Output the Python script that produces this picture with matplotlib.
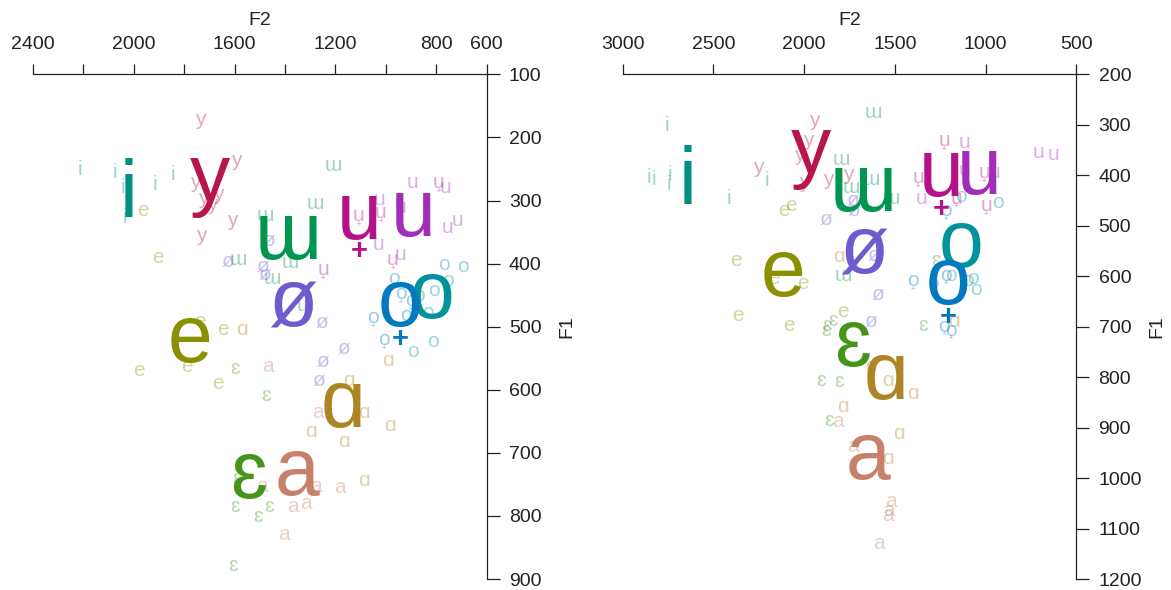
import numpy as np
import matplotlib.pyplot as plt

plt.rcParams['font.family'] = ['Liberation Sans', 'DejaVu Sans']

########################################################################
# Vowel categories and their colours

vowels = ['i', 'y', 'ɯ', 'u̟', 'u', 'o', 'o̟', 'ø', 'e', 'ɛ', 'ɑ', 'a']
colours = ['#00907F', '#B8154A', '#00964F', '#B5128A', '#A22EB8', '#00949A',
           '#0079C0', '#6E5BD0', '#8A9000', '#46951A', '#AD8524', '#C7816A']

########################################################################
# Left speaker: individual tokens (F2, F1 in Hz)

L_i_f2 = [2213, 2074, 2042, 1915, 1844, 2034]
L_i_f1 = [251, 256, 280, 275, 259, 327]
L_y_f2 = [1736, 1593, 1756, 1724, 1665, 1689, 1609, 1732]
L_y_f1 = [172, 237, 272, 296, 291, 307, 331, 356]
L_ɯ_f2 = [1208, 1279, 1478, 1585, 1450, 1379, 1319]
L_ɯ_f1 = [245, 304, 324, 394, 423, 399, 466]
L_ụ_f2 = [1108, 1021, 942, 791, 973, 1248]
L_ụ_f1 = [324, 319, 311, 272, 394, 410]
L_u_f2 = [1025, 894, 763, 755, 715, 1029, 942]
L_u_f1 = [299, 272, 280, 343, 331, 370, 385]
L_o_f2 = [771, 695, 755, 810, 834, 814, 894]
L_o_f1 = [402, 404, 426, 443, 478, 523, 539]
L_ọ_f2 = [969, 942, 902, 922, 1053, 1009, 870]
L_ọ_f1 = [423, 447, 459, 482, 486, 521, 450]
L_ø_f2 = [1625, 1486, 1478, 1466, 1252, 1168, 1248, 1267]
L_ø_f1 = [396, 404, 418, 364, 494, 534, 555, 585]
L_e_f2 = [1963, 1903, 1736, 1645, 1979, 1788, 1665]
L_e_f1 = [315, 391, 491, 505, 569, 563, 590]
L_ɛ_f2 = [1597, 1474, 1589, 1597, 1462, 1506, 1605]
L_ɛ_f1 = [566, 609, 741, 785, 785, 801, 879]
L_ɑ_f2 = [1573, 993, 1148, 1089, 985, 1299, 1168, 1089]
L_ɑ_f1 = [505, 553, 585, 636, 657, 666, 682, 744]
L_a_f2 = [1466, 1271, 1490, 1279, 1184, 1367, 1319, 1406]
L_a_f1 = [563, 636, 753, 753, 755, 785, 781, 830]

# Left speaker: vowel means (same order as vowels)
L_mean_f2 = [2022, 1697, 1387, 1105, 890, 818, 942, 1371, 1776, 1546, 1172, 1351]
L_mean_f1 = [292, 267, 359, 327, 323, 453, 466, 467, 523, 738, 626, 733]

########################################################################
# Right speaker: individual tokens (F2, F1 in Hz)

R_i_f2 = [2757, 2856, 2829, 2741, 2746, 2205, 2415]
R_i_f1 = [301, 405, 409, 399, 419, 411, 445]
R_y_f2 = [1946, 1979, 2029, 2255, 1869, 1758, 2001]
R_y_f1 = [291, 331, 361, 385, 409, 399, 415]
R_ɯ_f2 = [1620, 1797, 1631, 1742, 1521, 1786]
R_ɯ_f1 = [276, 369, 409, 425, 445, 598]
R_ụ_f2 = [1228, 1372, 1008, 1162, 997]
R_ụ_f1 = [331, 405, 395, 445, 460]
R_u_f2 = [1118, 710, 627, 1355, 952, 1118]
R_u_f1 = [335, 355, 359, 445, 395, 391]
R_o_f2 = [1135, 930, 1068, 1052, 1096, 1190]
R_o_f1 = [441, 454, 604, 627, 608, 598]
R_ọ_f2 = [1217, 1400, 1289, 1217, 1228, 1190]
R_ọ_f1 = [470, 608, 614, 598, 699, 707]
R_ø_f2 = [1880, 1731, 1725, 1615, 1593, 1631]
R_ø_f1 = [488, 449, 470, 558, 637, 689]
R_e_f2 = [2111, 2073, 2376, 2167, 2007, 2365, 2084, 1786]
R_e_f1 = [470, 460, 568, 604, 614, 677, 697, 669]
R_ɛ_f2 = [1273, 1880, 1841, 1874, 1344, 1907, 1808, 1863]
R_ɛ_f1 = [568, 707, 687, 697, 697, 806, 808, 886]
R_ɑ_f2 = [1808, 1173, 1631, 1537, 1400, 1786, 1477, 1537]
R_ɑ_f1 = [560, 689, 779, 806, 832, 858, 912, 961]
R_a_f2 = [1813, 1731, 1521, 1532, 1537, 1587]
R_a_f1 = [888, 938, 1047, 1065, 1075, 1130]

# Right speaker: vowel means
R_mean_f2 = [2641, 1962, 1675, 1245, 1035, 1135, 1206, 1670, 2117, 1731, 1548, 1648]
R_mean_f1 = [415, 353, 429, 399, 395, 540, 614, 552, 598, 737, 802, 961]

########################################################################
# Axis settings per panel

L_xticks = [2400, 2200, 2000, 1800, 1600, 1400, 1200, 1000, 800, 600]
L_xlabels = ['2400', '', '2000', '', '1600', '', '1200', '', '800', '600']
L_yticks = [100, 200, 300, 400, 500, 600, 700, 800, 900]

R_xticks = [3000, 2500, 2000, 1500, 1000, 500]
R_xlabels = ['3000', '2500', '2000', '1500', '1000', '500']
R_yticks = [200, 300, 400, 500, 600, 700, 800, 900, 1000, 1100, 1200]

L_tokens = [(L_i_f2, L_i_f1), (L_y_f2, L_y_f1), (L_ɯ_f2, L_ɯ_f1), (L_ụ_f2, L_ụ_f1),
            (L_u_f2, L_u_f1), (L_o_f2, L_o_f1), (L_ọ_f2, L_ọ_f1), (L_ø_f2, L_ø_f1),
            (L_e_f2, L_e_f1), (L_ɛ_f2, L_ɛ_f1), (L_ɑ_f2, L_ɑ_f1), (L_a_f2, L_a_f1)]
R_tokens = [(R_i_f2, R_i_f1), (R_y_f2, R_y_f1), (R_ɯ_f2, R_ɯ_f1), (R_ụ_f2, R_ụ_f1),
            (R_u_f2, R_u_f1), (R_o_f2, R_o_f1), (R_ọ_f2, R_ọ_f1), (R_ø_f2, R_ø_f1),
            (R_e_f2, R_e_f1), (R_ɛ_f2, R_ɛ_f1), (R_ɑ_f2, R_ɑ_f1), (R_a_f2, R_a_f1)]

PLUS_BELOW = '\u031f'


def vowel_label(ax, x, y, v, colour, size, alpha, z):
    # matplotlib places the combining "advanced" plus badly, so draw it
    # as its own small '+' centred under the base letter
    base = v.replace(PLUS_BELOW, '')
    ax.text(x, y, base, color=colour, alpha=alpha, fontsize=size,
            ha='center', va='center', zorder=z)
    if PLUS_BELOW in v:
        ax.annotate('+', (x, y), xytext=(0, -0.42 * size),
                    textcoords='offset points', color=colour, alpha=alpha,
                    fontsize=0.36 * size, fontweight='bold',
                    ha='center', va='center', zorder=z)


def vowel_panel(ax, tokens, mean_f2, mean_f1, xticks, xlabels, yticks):
    # faint token labels first, big means on top
    for v, c, (f2, f1) in zip(vowels, colours, tokens):
        for x, y in zip(f2, f1):
            vowel_label(ax, x, y, v, c, 15, 0.38, 2)
    for v, c, x, y in zip(vowels, colours, mean_f2, mean_f1):
        vowel_label(ax, x, y, v, c, 58, 1.0, 3)

    ax.set_xlim(xticks[0], xticks[-1])
    ax.set_ylim(yticks[-1], yticks[0])
    ax.set_xticks(xticks)
    ax.set_xticklabels(xlabels)
    ax.set_yticks(yticks)

    ax.xaxis.tick_top()
    ax.yaxis.tick_right()
    ax.spines['bottom'].set_visible(False)
    ax.spines['left'].set_visible(False)
    for s in ('top', 'right'):
        ax.spines[s].set_linewidth(0.9)
        ax.spines[s].set_color('#222222')
    ax.tick_params(axis='x', direction='out', length=7.5, width=0.9, pad=8,
                   labelsize=14, colors='#222222')
    ax.tick_params(axis='y', direction='out', length=9, width=0.9, pad=7,
                   labelsize=14, colors='#222222')

    ax.set_xlabel('F2', fontsize=14, color='#222222')
    ax.xaxis.set_label_position('top')
    ax.xaxis.set_label_coords(0.5, 1.098)
    ax.set_ylabel('F1', fontsize=14, color='#222222')
    ax.yaxis.set_label_position('right')
    ax.yaxis.set_label_coords(1.159, 0.5)
    ax.patch.set_visible(False)


########################################################################
# Draw both speakers

fig = plt.figure(figsize=(11.71, 5.90), dpi=100)
ax_l = fig.add_axes([0.02818, 0.018644, 0.38745, 0.85525])
ax_r = fig.add_axes([0.53168, 0.018644, 0.38745, 0.85525])

vowel_panel(ax_l, L_tokens, L_mean_f2, L_mean_f1, L_xticks, L_xlabels, L_yticks)
vowel_panel(ax_r, R_tokens, R_mean_f2, R_mean_f1, R_xticks, R_xlabels, R_yticks)

fig.savefig('out.png', dpi=100)
